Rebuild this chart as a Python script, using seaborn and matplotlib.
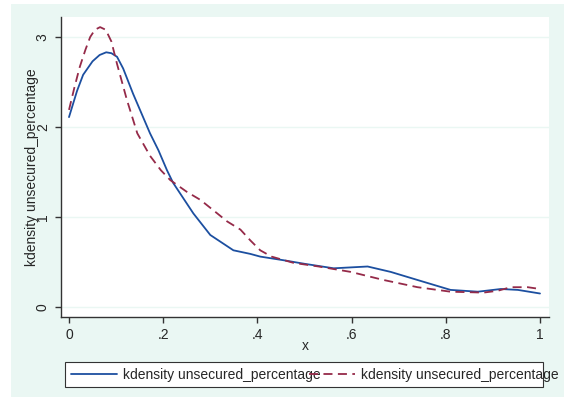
import numpy as np
import pandas as pd
import seaborn as sns
import matplotlib.pyplot as plt
from matplotlib.patches import Rectangle

# values
blue_x = [0.0, 0.017, 0.03, 0.05, 0.065, 0.079, 0.09, 0.102, 0.115, 0.136, 0.172,
          0.19, 0.208, 0.221, 0.264, 0.30, 0.349, 0.385, 0.406, 0.455, 0.5,
          0.562, 0.634, 0.683, 0.74, 0.81, 0.868, 0.917, 0.953, 1.0]
blue_y = [2.11, 2.40, 2.58, 2.73, 2.80, 2.83, 2.82, 2.78, 2.65, 2.37, 1.93,
          1.74, 1.52, 1.38, 1.04, 0.80, 0.63, 0.59, 0.56, 0.52, 0.48,
          0.43, 0.45, 0.39, 0.30, 0.19, 0.17, 0.20, 0.19, 0.15]

red_x = [0.0, 0.012, 0.023, 0.035, 0.045, 0.055, 0.066, 0.078, 0.09, 0.102,
         0.123, 0.145, 0.172, 0.195, 0.215, 0.25, 0.279, 0.31, 0.336, 0.364,
         0.385, 0.406, 0.43, 0.477, 0.53, 0.598, 0.668, 0.74, 0.81, 0.88,
         0.91, 0.938, 0.974, 1.0]
red_y = [2.19, 2.45, 2.67, 2.86, 3.00, 3.08, 3.11, 3.08, 2.95, 2.70,
         2.30, 1.93, 1.68, 1.52, 1.41, 1.28, 1.19, 1.06, 0.95, 0.86,
         0.74, 0.63, 0.56, 0.49, 0.45, 0.39, 0.30, 0.22, 0.17, 0.16,
         0.18, 0.22, 0.22, 0.20]

x_ticks = [0, 0.2, 0.4, 0.6, 0.8, 1.0]
x_labels = ["0", ".2", ".4", ".6", ".8", "1"]
y_ticks = [0, 1, 2, 3]
series_label = "kdensity unsecured_percentage"

sns.set_style("white")
plt.rcParams['font.family'] = ['Liberation Sans', 'DejaVu Sans']

W, H = 564, 404
fig = plt.figure(figsize=(W / 100, H / 100), dpi=100)
fig.patch.set_facecolor("white")

# mint graph region
mint = "#eaf7f3"
fig.patches.append(Rectangle((11 / W, 1 - 397 / H), (W - 11) / W, (397 - 4) / H,
                             transform=fig.transFigure, facecolor=mint,
                             edgecolor="none", zorder=-10))

ax = fig.add_axes([61 / W, 1 - 317 / H, 488 / W, 300 / H])
ax.set_zorder(2)
ax.set_facecolor("white")

blue_df = pd.DataFrame({"x": blue_x, "y": blue_y})
red_df = pd.DataFrame({"x": red_x, "y": red_y})

sns.lineplot(data=blue_df, x="x", y="y", ax=ax, color="#1c4fa0",
             linewidth=1.3, label=series_label, zorder=3)
sns.lineplot(data=red_df, x="x", y="y", ax=ax, color="#952a49",
             linewidth=1.3, label=series_label, zorder=3)
ax.lines[1].set_dashes([5, 3])

ax.set_xlim(-8 / 471, 1 + 9 / 471)
ax.set_ylim(-10 / 90, 290 / 90)

ax.set_xticks(x_ticks)
ax.set_xticklabels(x_labels)
ax.set_yticks(y_ticks)
ax.set_yticklabels([str(t) for t in y_ticks], rotation=90, va="center")
ax.tick_params(axis="both", direction="out", length=4, width=1,
               color="#333333", labelsize=10, pad=4)
ax.tick_params(axis="x", bottom=True)
ax.tick_params(axis="y", left=True)

ax.grid(axis="y", color=mint, linewidth=1.0)
ax.set_axisbelow(True)

for side in ["top", "right"]:
    ax.spines[side].set_visible(False)
for side in ["left", "bottom"]:
    ax.spines[side].set_color("#333333")
    ax.spines[side].set_linewidth(1.0)

ax.set_xlabel("x", fontsize=10)
ax.set_ylabel(series_label, fontsize=10)
ax.xaxis.set_label_coords(0.5, -0.075)
ax.yaxis.set_label_coords(-0.046, 0.5)

# legend: Stata-like box with overflowing labels
ax.get_legend().remove()
handles, labels = ax.get_legend_handles_labels()
leg = fig.legend(handles, labels, ncol=2, frameon=False, fontsize=10,
                 loc="center left", bbox_to_anchor=(71 / W, 1 - 374.5 / H),
                 borderaxespad=0, borderpad=0, handlelength=3.3,
                 handletextpad=0.45, columnspacing=-0.85)
leg.set_zorder(5)
fig.patches.append(Rectangle((65 / W, 1 - 387 / H), (543 - 65) / W, 25 / H,
                             transform=fig.transFigure, facecolor="white",
                             edgecolor="#333333", linewidth=0.8, zorder=1))

fig.savefig("out.png", dpi=100, facecolor="white")
